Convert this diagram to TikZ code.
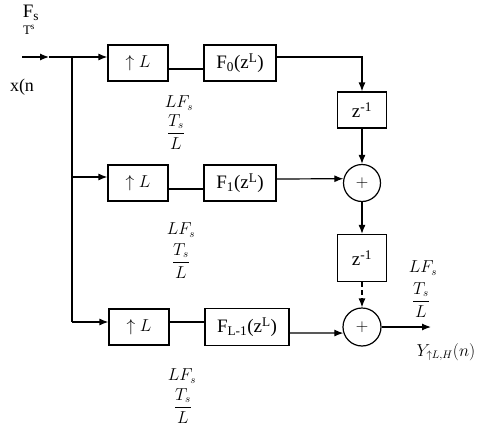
\documentclass[tikz,border=0pt]{standalone}
\usepackage{fontspec}
\setmainfont{Liberation Serif}
\usetikzlibrary{arrows.meta}
\begin{document}
\begin{tikzpicture}[x=1pt,y=-1pt,
  blk/.style={draw, line width=1.2pt, inner sep=0pt, minimum height=36pt, font=\fontsize{19}{21}\selectfont},
  sumnode/.style={draw, circle, line width=1.2pt, inner sep=0pt, minimum size=37pt, font=\fontsize{16}{18}\selectfont},
  wire/.style={line width=1.2pt},
  arr/.style={line width=1.2pt, -{Latex[length=9pt,width=7pt]}},
  lbl/.style={inner sep=0pt, font=\fontsize{16}{18}\selectfont}]
\useasboundingbox (0,0) rectangle (480,434);
% blocks
\node[blk, minimum width=60pt] (u1) at (138,63) {$\uparrow L$};
\node[blk, minimum width=72pt] (f0) at (240,63) {F\textsubscript{0}(z\textsuperscript{L})};
\node[blk, minimum width=49pt] (z1) at (362,110) {z\textsuperscript{-1}};
\node[sumnode] (c1) at (362,183) {$+$};
\node[blk, minimum width=60pt] (u2) at (138,183) {$\uparrow L$};
\node[blk, minimum width=72pt] (f1) at (240,183) {F\textsubscript{1}(z\textsuperscript{L})};
\node[blk, minimum width=49pt, minimum height=47pt] (z2) at (362,258) {z\textsuperscript{-1}};
\node[sumnode, minimum size=38pt] (c2) at (362,327) {$+$};
\node[blk, minimum width=60pt] (u3) at (139,327) {$\uparrow L$};
\node[blk, minimum width=84pt, minimum height=37pt] (f3) at (247,327) {F\textsubscript{L-1}(z\textsuperscript{L})};
% coordinates
\coordinate (in) at (22,57);
\coordinate (m) at (49,57);
\coordinate (j) at (72,57);
\coordinate (b2) at (72,177);
\coordinate (b3) at (72,322);
\coordinate (out) at (431,327);
% connectors
\draw[arr] (in) -- (m);
\draw[arr] (m) -- (u1.west |- in);
\draw[wire] (j) -- (b3);
\draw[arr] (b2) -- (u2.west |- b2);
\draw[arr] (b3) -- (u3.west |- b3);
\draw[wire] ([yshift=-6pt]u1.east) -- ([yshift=-6pt]f0.west);
\draw[wire] ([yshift=-6pt]u2.east) -- ([yshift=-6pt]f1.west);
\draw[wire] ([yshift=5pt]u3.east) -- ([yshift=5pt]f3.west);
\draw[arr] ([yshift=6pt]f0.east) -| (z1.north);
\draw[arr] (z1) -- (c1);
\draw[arr] ([yshift=4pt]f1.east) -- (c1.167.5);
\draw[arr] (c1) -- (z2);
\draw[arr, dashed, dash pattern=on 5pt off 3pt] (z2) -- (c2);
\draw[arr] ([yshift=-6pt]f3.east) -- (c2.198.4);
\draw[arr] (c2) -- (out);
% labels
\node[lbl, font=\fontsize{19}{21}\selectfont] (fs) at (31,13) {F\textsubscript{s}};
\node[lbl, font=\fontsize{13}{15}\selectfont] (ts) at (29,30) {T\textsuperscript{s}};
\node[lbl, font=\fontsize{18}{20}\selectfont] (xn) at (22,87) {x(n};
\node[lbl] (l1a) at (179,103) {$LF_s$};
\node[lbl] (l1b) at (176,132) {$\displaystyle\frac{T_s}{L}$};
\node[lbl] (l2a) at (181,230) {$LF_s$};
\node[lbl] (l2b) at (181,261) {$\displaystyle\frac{T_s}{L}$};
\node[lbl] (l3a) at (182,376) {$LF_s$};
\node[lbl] (l3b) at (183,406) {$\displaystyle\frac{T_s}{L}$};
\node[lbl] (l4a) at (423,268) {$LF_s$};
\node[lbl] (l4b) at (421,300) {$\displaystyle\frac{T_s}{L}$};
\node[lbl] (y) at (446,352) {$Y_{\uparrow L,H}(n)$};
\end{tikzpicture}
\end{document}
